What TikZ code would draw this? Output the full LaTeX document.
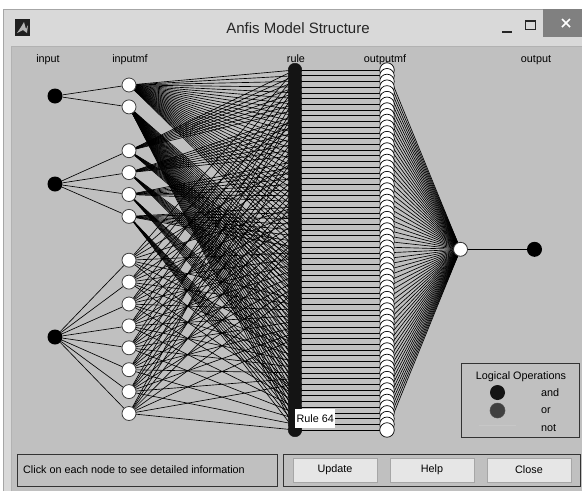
\documentclass[tikz,border=0pt]{standalone}
\usepackage{fontspec}
\setmainfont{Liberation Sans}
\usetikzlibrary{backgrounds}
\pgfdeclarelayer{frame}
\pgfsetlayers{frame,background,main}

\definecolor{panelgray}{HTML}{C0C0C0}
\definecolor{framegray}{HTML}{D9D9D9}
\definecolor{closegray}{HTML}{808080}
\definecolor{btnface}{HTML}{E6E6E6}
\definecolor{orgray}{HTML}{404040}

\tikzset{
  inode/.style={circle, fill=black, inner sep=0pt, minimum size=15pt},
  mfnode/.style={circle, fill=white, draw=black!75, line width=0.8pt, inner sep=0pt, minimum size=14pt},
  rulenode/.style={circle, fill=black!92, draw=black!92, line width=0.5pt, inner sep=0pt, minimum size=13.5pt},
  omfnode/.style={circle, fill=white, draw=black, line width=0.7pt, inner sep=0pt, minimum size=14.5pt},
  outnode/.style={circle, fill=white, draw=black!80, line width=0.8pt, inner sep=0pt, minimum size=14pt},
  finalnode/.style={circle, fill=black, inner sep=0pt, minimum size=15pt},
  link/.style={draw=black, line width=0.65pt},
  lbl/.style={font=\fontsize{10.8}{13}\selectfont, inner sep=0pt},
  boxline/.style={draw=black!80, line width=1pt},
  button/.style={draw=black!35, fill=btnface, line width=0.8pt, minimum width=84pt, minimum height=24pt, inner sep=0pt, font=\fontsize{10.8}{13}\selectfont}
}

\begin{document}
\begin{tikzpicture}[x=1pt, y=-1pt]
\useasboundingbox (0,0) rectangle (582,491);

% window frame, title bar and client panel
\begin{pgfonlayer}{frame}
  \fill[white] (0,0) rectangle (582,491);
  \fill[framegray] (3,9) rectangle (582,491);
  \draw[black!35, line width=0.6pt] (3.3,491) -- (3.3,9.3) -- (582,9.3);
  \fill[panelgray] (11,46) rectangle (582,491);
  \draw[black!30, line width=0.6pt] (11,491) -- (11,46) -- (582,46);
  % application icon
  \fill[black!88] (15,19) rectangle (30,36);
  \fill[black!30] (17,33) -- (21,27) -- (24,22) -- (26,29) -- (28,25) -- (27,33) -- (23,30) -- cycle;
  % caption buttons
  \draw[black!85, line width=2pt] (502,32) -- (512,32);
  \draw[black!85, line width=1pt] (525,20) rectangle (535,29);
  \draw[black!85, line width=2pt] (525,20.5) -- (535,20.5);
  \fill[closegray] (543,9) rectangle (582,37);
  \draw[white, line width=1.6pt] (562,19) -- (570,27) (562,27) -- (570,19);
\end{pgfonlayer}

\node[font=\fontsize{15}{17}\selectfont, text=black!85] (title) at (298,28.5) {Anfis Model Structure};

% layer captions
\node[lbl, anchor=base] (capin) at (48,62) {input};
\node[lbl, anchor=base] (capinmf) at (130,62) {inputmf};
\node[lbl, anchor=base] (caprule) at (296,62) {rule};
\node[lbl, anchor=base] (capoutmf) at (385,62) {outputmf};
\node[lbl, anchor=base] (capout) at (536,62) {output};

% input nodes
\node[inode] (in1) at (55,96) {};
\node[inode] (in2) at (55,184) {};
\node[inode] (in3) at (55,337) {};

% input membership functions (2 + 4 + 8)
\foreach \s [count=\i] in {0,1,3,4,5,6,8,9,10,11,12,13,14,15}
  \node[mfnode] (mf\i) at (129, {85+21.9*\s}) {};

% rule nodes and output membership functions
\foreach \k in {1,...,64}
  \node[rulenode] (r\k) at (295, {70+(\k-1)*5.714}) {};
\foreach \k in {1,...,64}
  \node[omfnode] (om\k) at (387, {70+(\k-1)*5.714}) {};

% aggregation and output
\node[outnode] (sum) at (460.5,249.3) {};
\node[finalnode] (final) at (534.5,249.3) {};

% connections
\begin{pgfonlayer}{background}
  \foreach \m in {1,2} \draw[link] (in1) -- (mf\m);
  \foreach \m in {3,...,6} \draw[link] (in2) -- (mf\m);
  \foreach \m in {7,...,14} \draw[link] (in3) -- (mf\m);
  \foreach \k in {1,...,64}{
    \pgfmathtruncatemacro\ia{1+int((\k-1)/32)}
    \pgfmathtruncatemacro\ib{3+mod(int((\k-1)/8),4)}
    \pgfmathtruncatemacro\ic{7+mod(\k-1,8)}
    \draw[link] (mf\ia.center) -- (r\k.center);
    \draw[link] (mf\ib.center) -- (r\k.center);
    \draw[link] (mf\ic.center) -- (r\k.center);
    \draw[link] (r\k.center) -- (om\k.center);
    \draw[link] (om\k.center) -- (sum.center);
  }
  \draw[link, line width=0.8pt] (sum) -- (final);
\end{pgfonlayer}

% tooltip of the last rule
\node[fill=white, inner sep=0pt, minimum width=40pt, minimum height=19pt, anchor=north west,
      font=\fontsize{10.8}{13}\selectfont] (tip) at (295,409) {Rule 64};

% legend
\draw[boxline] (461,363) rectangle (579,437);
\node[lbl] (legtitle) at (521,377) {Logical Operations};
\node[circle, fill=black!92, inner sep=0pt, minimum width=13pt, minimum height=15pt] (legand) at (497.5,392.5) {};
\node[circle, fill=orgray, draw=black!70, line width=0.5pt, inner sep=0pt, minimum width=13pt, minimum height=15pt] (legor) at (497.5,410.5) {};
\coordinate (nota) at (479,425);
\coordinate (notb) at (516,425);
\draw[black!22, line width=0.6pt] (nota) -- (notb);
\node[lbl, anchor=west] (txtand) at (541,392.5) {and};
\node[lbl, anchor=west] (txtor) at (541,410.5) {or};
\node[lbl, anchor=west] (txtnot) at (541,428) {not};

% status bar and buttons
\draw[boxline] (17,454) rectangle (277,486);
\node[lbl, anchor=west] (status) at (23,470) {Click on each node to see detailed information};
\draw[boxline] (283,454) rectangle (580,486);
\node[button] (bupdate) at (335,470) {Update};
\node[button] (bhelp) at (432,470) {Help};
\node[button] (bclose) at (529,470) {Close};
\end{tikzpicture}
\end{document}
